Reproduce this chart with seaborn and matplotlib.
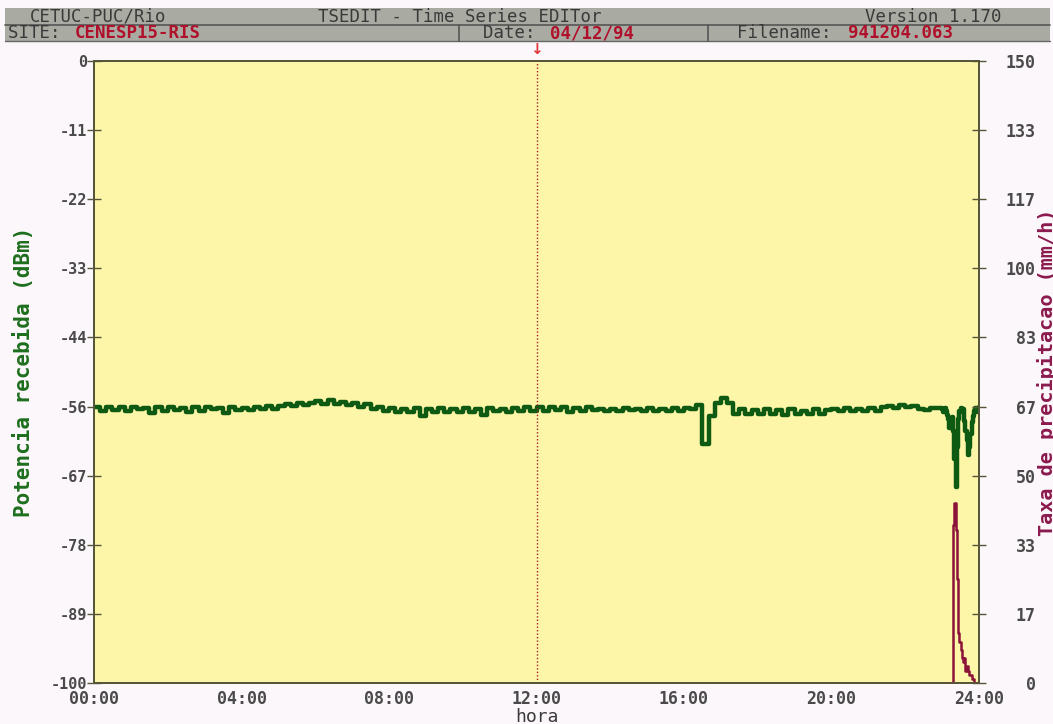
import numpy as np
import pandas as pd
import seaborn as sns
import matplotlib.pyplot as plt
from matplotlib.patches import Rectangle

# received power (dBm), 10-minute samples from 00:00 to 22:50
power_day = [
    -55.7, -56.2, -55.6, -56.1, -55.7, -56.3, -55.6, -56.0, -55.8, -56.6, -55.7, -56.2,   # 00-02
    -55.6, -56.1, -55.8, -56.5, -55.7, -56.2, -55.6, -56.0, -55.8, -56.6, -55.7, -56.1,   # 02-04
    -55.8, -56.1, -55.6, -56.0, -55.5, -55.9,                                             # 04-05
    -55.4, -55.1, -55.5, -54.9, -55.3, -55.0,                                             # 05-06
    -54.6, -55.1, -54.5, -55.2, -54.8, -55.3,                                             # 06-07
    -55.0, -55.6, -55.1, -56.0, -55.7, -56.3,                                             # 07-08
    -55.8, -56.5, -55.9, -56.4, -55.8, -57.0, -55.9, -56.4, -55.8, -56.5, -56.0, -56.4,   # 08-10
    -55.8, -56.4, -55.9, -56.9, -55.8, -56.3, -55.9, -56.5, -55.8, -56.3, -55.7, -56.2,   # 10-12
    -55.6, -56.2, -55.7, -56.1, -55.6, -56.4, -55.8, -56.2, -55.7, -56.1, -55.9, -56.2,   # 12-14
    -55.9, -56.2, -55.8, -56.1, -55.9, -56.3, -55.8, -56.2, -55.9, -56.3, -55.8, -56.2,   # 14-16
    -55.8, -56.0, -55.3, -61.5, -57.0, -55.0, -54.2, -55.0, -56.8, -56.0, -56.8, -56.1,   # 16-18
    -56.8, -56.0, -56.7, -56.1, -56.9, -56.0, -56.8, -56.2, -56.7, -56.0, -56.8, -56.1,   # 18-20
    -55.9, -56.3, -55.8, -56.2, -55.9, -56.3, -55.8, -56.2, -55.7, -55.4, -55.8, -55.3,   # 20-22
    -55.7, -55.4, -55.9, -56.1, -55.8,                                                    # 22-22:50
]
day_step_h = 1 / 6

# last hour, 2-minute samples from 23:00 to 24:00
power_end = [
    -56.0, -56.4, -55.8, -56.3, -56.9, -57.5, -59.0, -58.0, -57.2, -59.5, -64.0,
    -68.5, -62.0, -57.5, -56.3, -55.8, -56.5, -56.0, -57.8, -59.5, -61.0,
    -63.4, -62.0, -60.0, -58.0, -57.0, -56.2, -55.8, -56.5, -55.9, -55.7,
]
rain_end = [
    0, 0, 0, 0, 0, 0, 0, 0, 0, 38, 43.5,
    37, 25, 12, 10, 8, 6, 5, 6, 3, 4,
    3, 2, 2, 1, 1, 0, 0, 0, 0, 0,
]
end_step_h = 1 / 30

power_ticks = [-100, -89, -78, -67, -56, -44, -33, -22, -11, 0]
rain_ticks = [0, 17, 33, 50, 67, 83, 100, 117, 133, 150]
hour_ticks = [0, 4, 8, 12, 16, 20, 24]
hour_labels = ["00:00", "04:00", "08:00", "12:00", "16:00", "20:00", "24:00"]
marker_hour = 12

t_day = np.arange(len(power_day)) * day_step_h
t_end = 23 + np.arange(len(power_end)) * end_step_h
df_power = pd.DataFrame({"hora": np.concatenate([t_day, t_end]),
                         "dbm": power_day + power_end})
df_rain = pd.DataFrame({"hora": t_end, "mmh": rain_end})

sns.set_style("white")
plt.rcParams["font.family"] = ["DejaVu Sans Mono", "DejaVu Sans"]

bg = "#fcf7fa"
fig = plt.figure(figsize=(10.53, 7.24), dpi=100, facecolor=bg)
ax = fig.add_axes([0.0893, 0.0566, 0.8404, 0.8591])
ax.set_facecolor("#fdf5a8")
ax2 = ax.twinx()
ax2.patch.set_visible(False)

sns.lineplot(data=df_power, x="hora", y="dbm", ax=ax, color="#0f5a12",
             linewidth=3.2, drawstyle="steps-post", estimator=None)
sns.lineplot(data=df_rain, x="hora", y="mmh", ax=ax2, color="#8b1238",
             linewidth=1.8, drawstyle="steps-post", estimator=None)

ax.axvline(marker_hour, color="#a02030", linestyle=(0, (1, 1.5)), linewidth=1.0)

ax.set_xlim(0, 24)
ax.set_ylim(-100, 0)
ax2.set_ylim(0, 150)

ax.set_yticks(np.linspace(-100, 0, len(power_ticks)))
ax.set_yticklabels([str(v) for v in power_ticks])
ax2.set_yticks(np.linspace(0, 150, len(rain_ticks)))
ax2.set_yticklabels([str(v) for v in rain_ticks], ha="right")
ax.set_xticks(hour_ticks)
ax.set_xticklabels(hour_labels)

spine_col = "#55553a"
for a in (ax, ax2):
    for s in a.spines.values():
        s.set_color(spine_col)
        s.set_linewidth(1.3)

ax.tick_params(axis="y", direction="inout", length=10, width=1, color=spine_col,
               labelsize=11, labelcolor="#4a4a4a", pad=0)
ax2.tick_params(axis="y", direction="inout", length=10, width=1, color=spine_col,
                labelsize=12, labelcolor="#4a4a4a", pad=36)
ax.tick_params(axis="x", direction="in", length=6, width=1, color=spine_col,
               labelsize=12, labelcolor="#4a4a4a", pad=5)
for lab in ax.get_yticklabels() + ax2.get_yticklabels() + ax.get_xticklabels():
    lab.set_fontweight("bold")

ax.set_ylabel("Potencia recebida (dBm)", color="#1d6e1d", fontsize=15,
              fontweight="bold", labelpad=12)
ax2.set_ylabel("Taxa de precipitacao (mm/h)", color="#8b1a4e", fontsize=14.5,
               fontweight="bold", rotation=90, labelpad=1)
ax.set_xlabel("hora", color="#3a3a3a", fontsize=13, labelpad=0)

# arrow marker above the cursor line
ax.annotate("\u2193", xy=(marker_hour, 0), xycoords="data", xytext=(0, 8),
            textcoords="offset points", ha="center", va="center",
            color="#e03838", fontsize=11, fontweight="bold",
            family=["DejaVu Sans"], annotation_clip=False)

# header bar
W, H = 1053, 724
head_col = "#a9aba3"
def fy(py):
    return 1 - py / H
fig.patches.append(Rectangle((5 / W, fy(41)), 1045 / W, 33 / H, transform=fig.transFigure,
                             facecolor=head_col, edgecolor="none", zorder=0))
fig.add_artist(plt.Line2D([5 / W, 1050 / W], [fy(25), fy(25)], color="#555555", lw=1.2))
fig.add_artist(plt.Line2D([5 / W, 1050 / W], [fy(41), fy(41)], color="#666666", lw=1.0))
for px in (459, 708):
    fig.add_artist(plt.Line2D([px / W, px / W], [fy(25), fy(41)], color="#555555", lw=1.2))

hdr = dict(fontsize=12.5, va="center", color="#3a3a3a")
red = "#b0102a"
fig.text(30 / W, fy(16.5), "CETUC-PUC/Rio", **hdr)
fig.text(318 / W, fy(16.5), "TSEDIT - Time Series EDITor", **hdr)
fig.text(865 / W, fy(16.5), "Version 1.170", **hdr)
fig.text(8 / W, fy(33), "SITE: ", **hdr)
fig.text(75 / W, fy(33), "CENESP15-RIS", fontsize=12.5, va="center", color=red, fontweight="bold")
fig.text(483 / W, fy(33), "Date: ", **hdr)
fig.text(550 / W, fy(33), "04/12/94", fontsize=12.5, va="center", color=red, fontweight="bold")
fig.text(737 / W, fy(33), "Filename: ", **hdr)
fig.text(848 / W, fy(33), "941204.063", fontsize=12.5, va="center", color=red, fontweight="bold")

fig.savefig("out.png", dpi=100, facecolor=bg)
